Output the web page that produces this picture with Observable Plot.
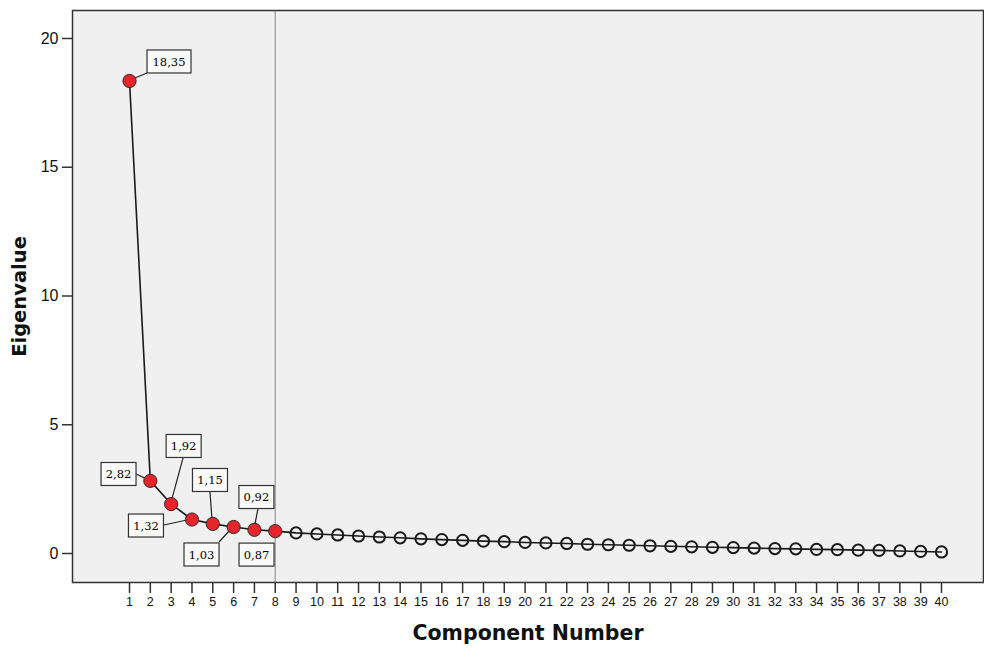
<!DOCTYPE html>
<html>
<head>
<meta charset="utf-8">
<script src="https://cdn.jsdelivr.net/npm/d3@7"></script>
<script src="https://cdn.jsdelivr.net/npm/@observablehq/plot@0.6"></script>
<style>
  html, body { margin: 0; padding: 0; background: #fff; }
  #chart svg { display: block; }
</style>
</head>
<body>
<div id="chart"></div>
<script>
// ---- data ----
const components = d3.range(1, 41);
const eigenvalues = [
  18.35, 2.82, 1.92, 1.32, 1.15, 1.03, 0.92, 0.87,
  0.80, 0.76, 0.72, 0.68, 0.64, 0.61, 0.57, 0.54, 0.51, 0.48,
  0.46, 0.43, 0.41, 0.39, 0.36, 0.34, 0.32, 0.30, 0.28, 0.26,
  0.24, 0.23, 0.21, 0.19, 0.18, 0.16, 0.15, 0.13, 0.12, 0.10,
  0.08, 0.06
];
const labelledCount = 8;           // components with eigenvalue labels (retained)
const cutoffComponent = 8;         // vertical reference line
const yTicks = [0, 5, 10, 15, 20];

// layout of label boxes (pixel offsets from point: box center, leader attach)
const labelLayout = [
  { bx: 40, by: -19, w: 44, ax: 18, ay: -7.5 },
  { bx: -31.3, by: -6.4, w: 35, ax: -13.8, ay: -6.4 },
  { bx: 13, by: -57.6, w: 35, ax: 12.4, ay: -45.6 },
  { bx: -45.5, by: 6.5, w: 35, ax: -27.5, ay: 6 },
  { bx: -2.3, by: -43.4, w: 35, ax: -2.3, ay: -31.4 },
  { bx: -31.6, by: 28, w: 35, ax: -14, ay: 15.5 },
  { bx: 2.5, by: -32.3, w: 35, ax: 4, ay: -20.3 },
  { bx: -18.2, by: 24, w: 35, ax: null, ay: null }
];

const data = components.map((c, i) => ({ c, v: eigenvalues[i], kept: i < labelledCount }));
const labelled = data.filter(d => d.kept).map((d, i) => ({ ...d, lay: labelLayout[i], text: d.v.toFixed(2).replace(".", ",") }));

function leaders(index, scales, values, dims) {
  const g = d3.create("svg:g");
  for (const i of index) {
    const d = labelled[i];
    if (d.lay.ax == null) continue;
    const px = values.x[i], py = values.y[i];
    g.append("line")
      .attr("x1", px).attr("y1", py)
      .attr("x2", px + d.lay.ax).attr("y2", py + d.lay.ay)
      .attr("stroke", "#222").attr("stroke-width", 1.2);
  }
  return g.node();
}

function boxes(index, scales, values, dims) {
  const g = d3.create("svg:g");
  for (const i of index) {
    const d = labelled[i];
    const cx = values.x[i] + d.lay.bx, cy = values.y[i] + d.lay.by;
    const w = d.lay.w, h = 23;
    g.append("rect")
      .attr("x", cx - w / 2).attr("y", cy - h / 2)
      .attr("width", w).attr("height", h)
      .attr("fill", "#fafafa").attr("stroke", "#333").attr("stroke-width", 1.2);
    g.append("text")
      .attr("x", cx).attr("y", cy)
      .attr("text-anchor", "middle").attr("dy", "0.35em")
      .attr("font-family", "'DejaVu Serif', serif").attr("font-size", 11.5)
      .attr("fill", "#000")
      .text(d.text);
  }
  return g.node();
}

const plot = Plot.plot({
  width: 984,
  height: 648,
  marginLeft: 72,
  marginRight: 1,
  marginTop: 10,
  marginBottom: 66,
  style: { fontFamily: "'Liberation Sans', Arial, sans-serif", background: "#fff" },
  x: { type: "linear", domain: [-1.738, 42.017] },
  y: { domain: [-1.126, 21.087] },
  marks: [
    Plot.frame({ fill: "#f0f0f0", stroke: null }),
    Plot.ruleX([cutoffComponent], { stroke: "#aaaaaa", strokeWidth: 1.5 }),
    Plot.line(data, { x: "c", y: "v", stroke: "#1a1a1a", strokeWidth: 1.6 }),
    Plot.dot(labelled, { x: "c", y: "v", render: leaders }),
    Plot.dot(data.filter(d => !d.kept), { x: "c", y: "v", r: 5.6, stroke: "#1a1a1a", strokeWidth: 2, fill: "none" }),
    Plot.dot(labelled, { x: "c", y: "v", r: 6.6, fill: "#e8242b", stroke: "#2a2a2a", strokeWidth: 1 }),
    Plot.dot(labelled, { x: "c", y: "v", render: boxes }),
    Plot.frame({ stroke: "#333", strokeWidth: 1.5 }),
    Plot.axisY({ ticks: yTicks, tickSize: 10, tickPadding: 4, fontSize: 16, color: "#111", stroke: "#333", strokeWidth: 1.5, label: null }),
    Plot.axisX({ ticks: components, tickFormat: d => String(d), tickSize: 11, tickPadding: 4, fontSize: 12.5, color: "#111", stroke: "#333", strokeWidth: 1.5, label: null }),
    Plot.text(["Eigenvalue"], { frameAnchor: "left", dx: -52.5, rotate: -90, textAnchor: "middle", lineAnchor: "middle", fontFamily: "'DejaVu Sans', sans-serif", fontSize: 19.5, fontWeight: "bold", fill: "#111" }),
    Plot.text(["Component Number"], { frameAnchor: "bottom", dy: 51, textAnchor: "middle", lineAnchor: "middle", fontFamily: "'DejaVu Sans', sans-serif", fontSize: 20.5, fontWeight: "bold", fill: "#111" })
  ]
});

document.getElementById("chart").appendChild(plot);
</script>
</body>
</html>
